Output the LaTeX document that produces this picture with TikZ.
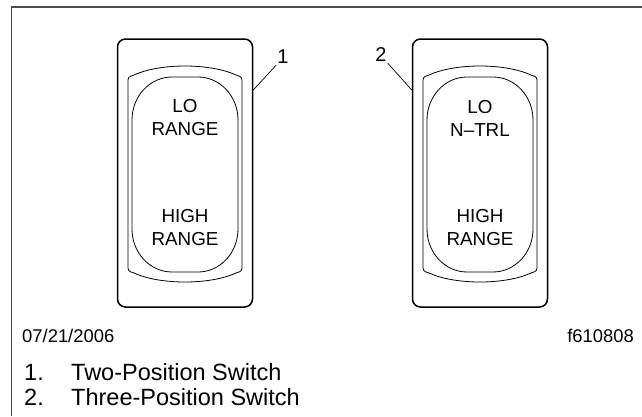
\documentclass[tikz,border=0pt]{standalone}
\usepackage{fontspec}
\setmainfont{Liberation Sans}
\usetikzlibrary{positioning}
\usetikzlibrary{calc}

\begin{document}
\begin{tikzpicture}[x=1pt, y=-1pt,
    bezel/.style={draw, line width=1.5pt, rounded corners=8pt, minimum width=135pt, minimum height=268pt, inner sep=0pt},
    thin line/.style={draw, line width=0.8pt},
    face/.style={align=center, font=\fontsize{18.8}{23}\selectfont, inner sep=0pt},
    callout/.style={font=\fontsize{20}{22}\selectfont, inner sep=1pt},
    caption/.style={anchor=west, font=\fontsize{23.5}{26}\selectfont, inner sep=0pt}]
        \useasboundingbox (0,0) rectangle (642,416);

        % frame
        \draw[gray!60!black, line width=1.3pt] (11.5,416) -- (11.5,7) -- (642,7);

        % the two switches
        \foreach \cx/\nm/\upper in {185/sw1/{LO\\RANGE}, 480/sw2/{LO\\N--TRL}} {
          \node[bezel] (\nm) at (\cx,173) {};
          \draw[thin line] (\cx-57,265) -- (\cx-57,83) .. controls (\cx-57,77) .. (\cx-51,75)
            .. controls (\cx-25,63) and (\cx+25,63) .. (\cx+51,75) .. controls (\cx+57,77) .. (\cx+57,83)
            -- (\cx+57,265) .. controls (\cx+57,271) .. (\cx+51,273)
            .. controls (\cx+25,285) and (\cx-25,285) .. (\cx-51,273) .. controls (\cx-57,271) .. cycle;
          \draw[thin line] (\cx-53,120) arc[start angle=180, end angle=90, x radius=40, y radius=-43]
            -- (\cx+13,77) arc[start angle=90, end angle=0, x radius=40, y radius=-43]
            -- (\cx+53,229) arc[start angle=0, end angle=-90, x radius=40, y radius=-43]
            -- (\cx-13,272) arc[start angle=-90, end angle=-180, x radius=40, y radius=-43] -- cycle;
          \node[face] (\nm top) at (\cx,118) {\upper};
          \node[face] (\nm bottom) at (\cx,228) {HIGH\\RANGE};
        }

        % callouts
        \node[callout] (lbl1) at (283,57) {1};
        \node[callout] (lbl2) at (381,55) {2};
        \coordinate (tip1) at (sw1.east |- 0,90);
        \coordinate (tip2) at (sw2.west |- 0,90);
        \draw[line width=0.7pt] (lbl1.south west) -- (tip1);
        \draw[line width=0.7pt] (lbl2.south east) -- (tip2);

        % date and figure number
        \node[anchor=west, inner sep=0pt, font=\fontsize{18.4}{20}\selectfont] (date) at (22,336) {07/21/2006};
        \node[anchor=east, inner sep=0pt, font=\fontsize{18.4}{20}\selectfont] (fig) at (634,336) {f610808};

        % legend
        \node[caption] (n1) at (24,372) {1.};
        \node[caption] (t1) at (71,372) {Two-Position Switch};
        \node[caption] (n2) at (24,397) {2.};
        \node[caption] (t2) at (71,397) {Three-Position Switch};
      \end{tikzpicture}
\end{document}
